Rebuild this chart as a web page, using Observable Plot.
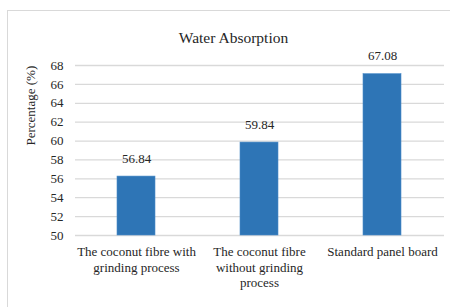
<!DOCTYPE html>
<html>
<head>
<meta charset="utf-8">
<script src="https://cdn.jsdelivr.net/npm/d3@7"></script>
<script src="https://cdn.jsdelivr.net/npm/@observablehq/plot@0.6"></script>
<style>
  html, body { margin: 0; padding: 0; background: #fff; }
  #wrap { position: relative; width: 450px; height: 307px; overflow: hidden; font-family: 'Liberation Serif', 'Times New Roman', serif; }
  #frame { position: absolute; left: 7px; top: 10px; width: 470px; height: 320px; border: 1px solid #d9d9d9; box-sizing: border-box; }
  #title { position: absolute; left: 0; width: 467px; top: 29px; text-align: center; font-family: 'Liberation Serif', serif; font-size: 15.5px; line-height: 18px; color: #262626; }
  #chart { position: absolute; left: 0; top: 0; }
</style>
</head>
<body>
<div id="wrap">
  <div id="frame"></div>
  <div id="chart"></div>
  <div id="title">Water Absorption</div>
</div>
<script>
const categories = [
  "The coconut fibre with grinding process",
  "The coconut fibre without grinding process",
  "Standard panel board"
];
const tickLabels = [
  "The coconut fibre with\ngrinding process",
  "The coconut fibre\nwithout grinding\nprocess",
  "Standard panel board"
];
// bar heights as drawn in the picture
const barValues = [56.24, 59.84, 67.08];
// data labels as printed above the bars
const valueLabels = ["56.84", "59.84", "67.08"];
const yTicks = [50, 52, 54, 56, 58, 60, 62, 64, 66, 68];
const yLabel = "Percentage (%)";

const data = categories.map((c, i) => ({category: c, value: barValues[i], label: valueLabels[i]}));
const tickMap = new Map(categories.map((c, i) => [c, tickLabels[i]]));
const FONT = "'Liberation Serif', 'Times New Roman', serif";
const INK = "#262626";

const chart = Plot.plot({
  width: 450,
  height: 307,
  marginLeft: 75,
  marginRight: 6,
  marginTop: 65,
  marginBottom: 72,
  style: {fontFamily: FONT, fontSize: "13px", color: INK, background: "transparent"},
  x: {domain: categories, paddingInner: 0.687, paddingOuter: 0.3435},
  y: {domain: [50, 68]},
  marks: [
    Plot.gridY(yTicks, {stroke: "#d9d9d9", strokeOpacity: 1, strokeWidth: 1.3}),
    Plot.barY(data, {x: "category", y1: 50, y2: "value", fill: "#2e75b6", stroke: "#4a8bc8", strokeWidth: 0.6}),
    Plot.text(data, {x: "category", y: "value", text: "label", dy: -18, fontSize: 13, fontFamily: FONT, fill: INK}),
    Plot.axisY(yTicks, {tickSize: 0, tickPadding: 12, fontSize: 13, fontFamily: FONT, fill: INK, label: null, tickFormat: d => String(d)}),
    Plot.axisX({tickSize: 0, tickPadding: 9, fontSize: 13, fontFamily: FONT, fill: INK, lineHeight: 1.22, label: null, tickFormat: d => tickMap.get(d)}),
    Plot.text([yLabel], {text: d => d, frameAnchor: "left", rotate: -90, dx: -45, dy: -5, fontSize: 13, fontFamily: FONT, fill: INK})
  ]
});
document.getElementById("chart").appendChild(chart);
</script>
</body>
</html>
